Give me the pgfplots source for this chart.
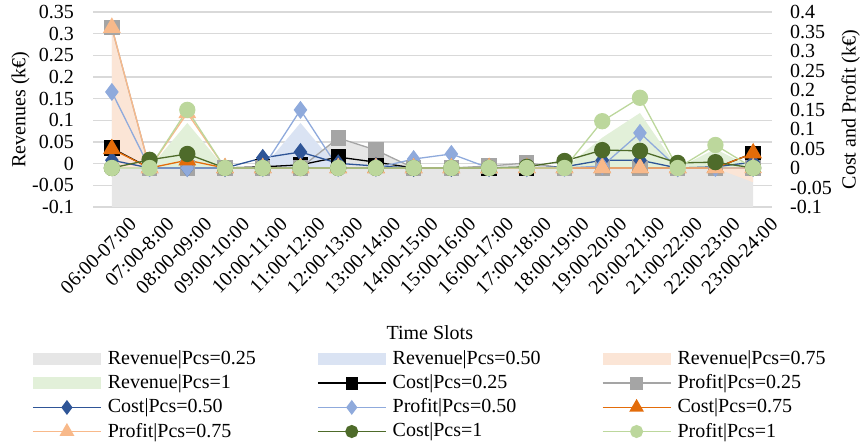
\documentclass[border=0pt]{standalone}
\usepackage{fontspec}
\setmainfont{Liberation Serif}
\usepackage{pgfplots}
\pgfplotsset{compat=1.18}
\usepackage{pgfplotstable}

\definecolor{gridgray}{HTML}{D9D9D9}
\definecolor{revA}{HTML}{E6E6E6}
\definecolor{revB}{HTML}{DAE3F3}
\definecolor{revC}{HTML}{FBE5D6}
\definecolor{revD}{HTML}{E2F0D9}
\definecolor{profA}{HTML}{A5A5A5}
\definecolor{costB}{HTML}{2F5597}
\definecolor{profB}{HTML}{8FAADC}
\definecolor{costC}{HTML}{E36C0A}
\definecolor{profC}{HTML}{F8B98A}
\definecolor{costD}{HTML}{4E6B2A}
\definecolor{profD}{HTML}{BCD79C}

\pgfplotstableread{
i  c025  p025  c050  p050  c075  p075  c1    p1
0  0.051 0.360 0.020 0.195 0.049 0.360 0.000 0.000
1  0.000 0.000 0.000 0.000 0.000 0.000 0.021 0.000
2  0.000 0.000 0.000 0.000 0.020 0.141 0.036 0.149
3  0.000 0.000 0.000 0.000 0.000 0.000 0.000 0.000
4  0.003 0.000 0.026 0.000 0.000 0.000 0.000 0.000
5  0.008 0.000 0.041 0.149 0.000 0.000 0.000 0.000
6  0.028 0.077 0.012 0.000 0.000 0.000 0.000 0.000
7  0.015 0.046 0.005 0.000 0.000 0.000 0.000 0.000
8  0.000 0.000 0.000 0.023 0.000 0.000 0.000 0.000
9  0.000 0.000 0.000 0.036 0.000 0.000 0.000 0.000
10 0.000 0.005 0.000 0.000 0.000 0.000 0.000 0.000
11 0.000 0.013 0.000 0.000 0.000 0.000 0.003 0.000
12 0.000 0.000 0.003 0.000 0.000 0.000 0.018 0.000
13 0.000 0.000 0.020 0.005 0.000 0.000 0.046 0.120
14 0.000 0.000 0.020 0.090 0.000 0.000 0.044 0.180
15 0.000 0.000 0.000 0.000 0.000 0.000 0.013 0.000
16 0.000 0.000 0.003 0.000 0.000 0.000 0.015 0.059
17 0.038 0.000 0.015 0.000 0.038 0.000 0.000 0.000
}\lines

\pgfplotsset{
  myarea/.style={legend image code/.code={\fill[##1] (0bp,-6bp) rectangle (68bp,6bp);}},
}

\begin{document}
\fontsize{20bp}{24bp}\selectfont
\begin{tikzpicture}
\path[use as bounding box] (0,0) rectangle (863bp,446bp);
% ---------- left axis: revenues (areas) ----------
\begin{axis}[
  at={(93bp,239bp)}, anchor=south west, scale only axis,
  width=679bp, height=195bp,
  xmin=-0.5, xmax=17.5, ymin=-0.1, ymax=0.35,
  axis line style={draw=none}, major tick length=0pt,
  ytick={-0.1,-0.05,0,0.05,0.1,0.15,0.2,0.25,0.3,0.35},
  yticklabels={-0.1,-0.05,0,0.05,0.1,0.15,0.2,0.25,0.3,0.35},
  yticklabel style={anchor=east, inner sep=0pt, xshift=-19bp},
  xtick={0,...,17},
  xticklabels={06:00-07:00,07:00-8:00,08:00-09:00,09:00-10:00,10:00-11:00,11:00-12:00,12:00-13:00,13:00-14:00,14:00-15:00,15:00-16:00,16:00-17:00,17:00-18:00,18:00-19:00,19:00-20:00,20:00-21:00,21:00-22:00,22:00-23:00,23:00-24:00},
  xticklabel style={rotate=45, anchor=east, inner sep=0pt, xshift=5bp, yshift=-25bp},
  ymajorgrids, major grid style={draw=gridgray, line width=1.3bp},
  every axis y label/.style={at={(axis description cs:-0.1068,0.5)}, rotate=90, anchor=center},
  every axis x label/.style={at={(axis description cs:0.496,-0.646)}, anchor=center},
  ylabel={Revenues (k€)},
  xlabel={Time Slots},
]
\addplot[fill=revA, draw=none, forget plot] coordinates {
 (0,-0.1) (0,0.315) (1,-0.01) (2,-0.01) (3,-0.01) (4,-0.01) (5,-0.008) (6,0.058) (7,0.032) (8,-0.01) (9,-0.01) (10,-0.006) (11,0.002) (12,-0.01) (13,-0.01) (14,-0.01) (15,-0.01) (16,-0.01) (17,-0.01) (17,-0.1)};
\addplot[fill=revB, draw=none, forget plot] coordinates {
 (0,-0.01) (1,-0.01) (2,-0.01) (3,-0.01) (4,-0.01) (5,0.094) (6,-0.01) (7,-0.01) (8,-0.01) (9,-0.01) (10,-0.01) (11,-0.01) (12,-0.01) (13,-0.01) (14,-0.01) (15,-0.01) (16,-0.01) (17,-0.01)};
\addplot[fill=revC, draw=none, forget plot] coordinates {
 (0,-0.01) (0,0.31) (1,-0.01) (2,-0.01) (3,-0.01) (4,-0.01) (5,-0.01) (6,-0.01) (7,-0.01) (8,-0.01) (9,-0.01) (10,-0.01) (11,-0.01) (12,-0.01) (13,-0.01) (14,-0.01) (15,-0.01) (16,-0.01) (17,-0.043) (17,-0.01)};
\addplot[fill=revD, draw=none, forget plot] coordinates {
 (0,-0.01) (1,-0.01) (2,0.094) (3,-0.01) (4,-0.01) (5,-0.01) (6,-0.01) (7,-0.01) (8,-0.01) (9,-0.01) (10,-0.01) (11,-0.01) (12,-0.01) (13,0.06) (14,0.117) (15,-0.01) (16,0.034) (17,-0.01)};
\end{axis}
% ---------- right axis: cost and profit (lines) ----------
\begin{axis}[
  at={(93bp,239bp)}, anchor=south west, scale only axis,
  width=679bp, height=195bp,
  xmin=-0.5, xmax=17.5, ymin=-0.1, ymax=0.4,
  axis line style={draw=none}, major tick length=0pt,
  xtick=\empty,
  ytick={-0.1,-0.05,0,0.05,0.1,0.15,0.2,0.25,0.3,0.35,0.4},
  yticklabels={-0.1,-0.05,0,0.05,0.1,0.15,0.2,0.25,0.3,0.35,0.4},
  yticklabel pos=right,
  yticklabel style={anchor=west, inner sep=0pt, xshift=18bp},
  every axis y label/.style={at={(axis description cs:1.116,0.5)}, rotate=90, anchor=center},
  ylabel={Cost and Profit (k€)},
  legend image code/.code={\draw[mark repeat=2,mark phase=2,#1,line width=1.8bp,every mark/.append style={scale=0.75}] plot coordinates {(0bp,0bp) (34bp,0bp) (68bp,0bp)};},
  legend columns=3,
  legend cell align=left,
  legend style={draw=none, fill=none, inner sep=0pt, outer sep=0pt,
    at={(axis description cs:-0.0898,-0.733)}, anchor=north west,
    font=\fontsize{20bp}{24bp}\selectfont,
    nodes={inner sep=1bp},
    row sep=5bp,
    /tikz/every odd column/.append style={column sep=5bp},
    /tikz/every even column/.append style={column sep=60bp}},
  every axis plot/.append style={line width=1.3bp},
]
\addlegendimage{myarea, fill=revA, draw=none}\addlegendentry{Revenue|Pcs=0.25}
\addlegendimage{myarea, fill=revB, draw=none}\addlegendentry{Revenue|Pcs=0.50}
\addlegendimage{myarea, fill=revC, draw=none}\addlegendentry{Revenue|Pcs=0.75}
\addlegendimage{myarea, fill=revD, draw=none}\addlegendentry{Revenue|Pcs=1}
\addplot[black, mark=square*, mark size=7bp, mark options={solid, fill=black}] table[x=i, y=c025] {\lines};
\addlegendentry{Cost|Pcs=0.25}
\addplot[profA, mark=square*, mark size=7bp, mark options={solid, fill=profA}] table[x=i, y=p025] {\lines};
\addlegendentry{Profit|Pcs=0.25}
\addplot[costB, mark=diamond*, mark size=8bp, mark options={solid, fill=costB}] table[x=i, y=c050] {\lines};
\addlegendentry{Cost|Pcs=0.50}
\addplot[profB, mark=diamond*, mark size=8bp, mark options={solid, fill=profB}] table[x=i, y=p050] {\lines};
\addlegendentry{Profit|Pcs=0.50}
\addplot[costC, mark=triangle*, mark size=9bp, mark options={solid, fill=costC}] table[x=i, y=c075] {\lines};
\addlegendentry{Cost|Pcs=0.75}
\addplot[profC, mark=triangle*, mark size=9bp, mark options={solid, fill=profC}] table[x=i, y=p075] {\lines};
\addlegendentry{Profit|Pcs=0.75}
\addplot[costD, mark=*, mark size=7.5bp, mark options={solid, fill=costD}] table[x=i, y=c1] {\lines};
\addlegendentry{Cost|Pcs=1}
\addplot[profD, mark=*, mark size=7.5bp, mark options={solid, fill=profD}] table[x=i, y=p1] {\lines};
\addlegendentry{Profit|Pcs=1}
\end{axis}
\end{tikzpicture}
\end{document}
